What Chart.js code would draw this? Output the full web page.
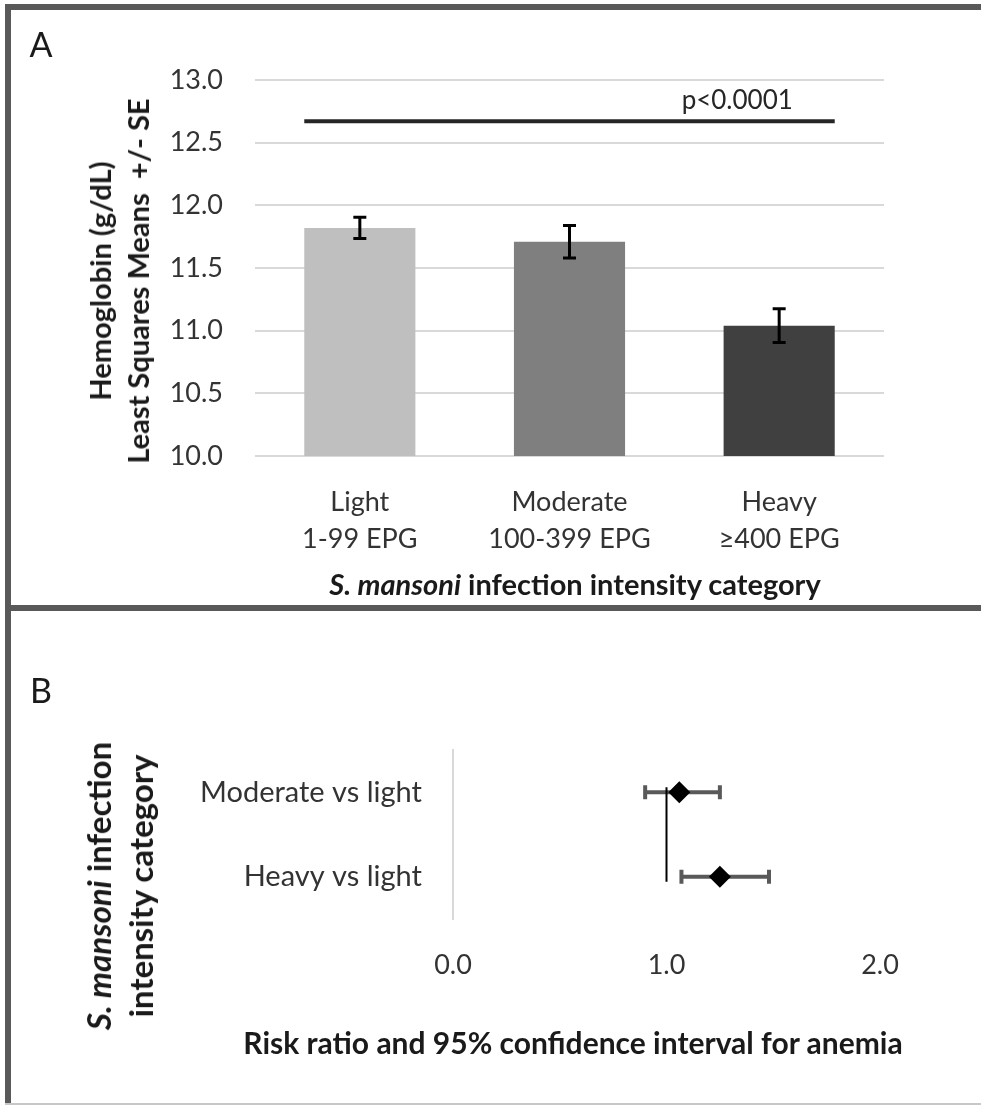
<!DOCTYPE html>
<html>
<head>
<meta charset="utf-8">
<script src="https://cdn.jsdelivr.net/npm/chart.js@4.4.0/dist/chart.umd.min.js"></script>
<style>
  html, body { margin: 0; padding: 0; background: #fff; }
  body { width: 981px; height: 1107px; position: relative; overflow: hidden;
         font-family: Lato, "Open Sans", sans-serif; color: #1a1a1a; }
  canvas { position: absolute; left: 0; }
  .rule { position: absolute; background: #595959; }
  .c { position: absolute; white-space: nowrap; text-align: center; transform: translate(-50%, -50%); }
  .rot { transform: translate(-50%, -50%) rotate(-90deg); }
  .panel { font-size: 34px; line-height: 1; }
  .title { font-size: 29px; font-weight: bold; }
</style>
</head>
<body>

<canvas id="hbChart" width="981" height="605" style="top:0"></canvas>
<canvas id="rrChart" width="981" height="492" style="top:611px"></canvas>

<!-- panel frame -->
<div class="rule" style="left:5px; top:4px; width:976px; height:6px"></div>
<div class="rule" style="left:5px; top:4px; width:6px; height:1101px"></div>
<div class="rule" style="left:5px; top:605px; width:976px; height:6px"></div>
<div class="rule" style="left:5px; top:1103px; width:976px; height:2px; background:#c8c8c8"></div>

<!-- panel letters and axis titles -->
<div class="c panel" style="left:41px; top:44px">A</div>
<div class="c title rot" style="left:119px; top:281px; line-height:38px">Hemoglobin (g/dL)<br>Least Squares Means &nbsp;+/- SE</div>
<div class="c title" style="left:575px; top:583px"><i>S. mansoni</i> infection intensity category</div>

<div class="c panel" style="left:41px; top:690px">B</div>
<div class="c title rot" style="left:119px; top:886px; line-height:42px; font-size:33px"><i>S. mansoni</i> infection<br>intensity category</div>
<div class="c title" style="left:573px; top:1042px; font-size:30px">Risk ratio and 95% confidence interval for anemia</div>

<script>
// ─── Panel A: hemoglobin by infection intensity ─────────────────────────────
const hbCategories = [["Light", "1-99 EPG"], ["Moderate", "100-399 EPG"], ["Heavy", "≥400 EPG"]];
const hbMeans  = [11.82, 11.71, 11.04];
const hbSE     = [0.085, 0.13, 0.135];
const hbColors = ["#bfbfbf", "#7f7f7f", "#404040"];
const hbAxis   = { min: 10, max: 13, step: 0.5 };
const sigLevel = 12.67;
const sigText  = "p<0.0001";

// ─── Panel B: risk ratios for anemia ────────────────────────────────────────
const rrLabels   = ["Moderate vs light", "Heavy vs light"];
const rrEstimate = [1.06, 1.25];
const rrLower    = [0.90, 1.07];
const rrUpper    = [1.25, 1.48];
const rrRef      = 1.0;
const rrAxis     = { min: 0, max: 2, step: 1 };

const FONT = "Lato, 'Open Sans', sans-serif";
const TICK_COLOR = "#333333";

// Error bars (+/- SE) and the significance bracket, drawn from bar geometry
const hbExtras = {
  id: "hbExtras",
  afterDatasetsDraw(chart) {
    const { ctx, scales: { x, y } } = chart;
    const bars = chart.getDatasetMeta(0).data;
    ctx.save();
    ctx.strokeStyle = "#000";
    ctx.lineWidth = 3;
    bars.forEach((bar, i) => {
      const top = y.getPixelForValue(hbMeans[i] + hbSE[i]);
      const bot = y.getPixelForValue(hbMeans[i] - hbSE[i]);
      ctx.beginPath();
      ctx.moveTo(bar.x, top); ctx.lineTo(bar.x, bot);
      ctx.moveTo(bar.x - 6.5, top); ctx.lineTo(bar.x + 6.5, top);
      ctx.moveTo(bar.x - 6.5, bot); ctx.lineTo(bar.x + 6.5, bot);
      ctx.stroke();
    });

    // bracket spans from the first bar's left edge to the last bar's right edge
    const first = bars[0], last = bars[bars.length - 1];
    const ly = y.getPixelForValue(sigLevel);
    ctx.strokeStyle = "#262626";
    ctx.lineWidth = 4;
    ctx.beginPath();
    ctx.moveTo(first.x - first.width / 2, ly);
    ctx.lineTo(last.x + last.width / 2, ly);
    ctx.stroke();

    ctx.fillStyle = "#262626";
    ctx.font = "26px " + FONT;
    ctx.textAlign = "center";
    ctx.textBaseline = "alphabetic";
    ctx.fillText(sigText, x.getPixelForValue(1.8), ly - 12);
    ctx.restore();
  }
};

new Chart(document.getElementById("hbChart"), {
  type: "bar",
  data: {
    labels: hbCategories,
    datasets: [{
      data: hbMeans,
      backgroundColor: hbColors,
      borderWidth: 0,
      categoryPercentage: 1,
      barPercentage: 0.53,
    }],
  },
  options: {
    responsive: false,
    animation: false,
    layout: { padding: { top: 80, right: 97, left: 0, bottom: 0 } },
    plugins: { legend: { display: false }, tooltip: { enabled: false } },
    scales: {
      x: {
        grid: { display: false },
        border: { display: false },
        ticks: { color: TICK_COLOR, font: { family: FONT, size: 27, lineHeight: 1.4 }, padding: 19, maxRotation: 0 },
        afterFit: (s) => { s.height = 149; },
      },
      y: {
        min: hbAxis.min,
        max: hbAxis.max,
        grid: { color: "#d9d9d9", lineWidth: 2, drawTicks: false },
        border: { display: false },
        ticks: {
          stepSize: hbAxis.step,
          color: TICK_COLOR,
          font: { family: FONT, size: 27 },
          padding: 32,
          callback: (v) => v.toFixed(1),
        },
        afterFit: (s) => { s.width = 255; },
      },
    },
  },
  plugins: [hbExtras],
});

// Reference line at RR = 1, a little past both rows
const rrRefLine = {
  id: "rrRefLine",
  afterDatasetsDraw(chart) {
    const { ctx, scales: { x, y } } = chart;
    const px = x.getPixelForValue(rrRef);
    ctx.save();
    ctx.strokeStyle = "#000";
    ctx.lineWidth = 2;
    ctx.beginPath();
    ctx.moveTo(px, y.getPixelForValue(0) - 5);
    ctx.lineTo(px, y.getPixelForValue(rrLabels.length - 1) + 5);
    ctx.stroke();
    ctx.restore();
  }
};

const ciDatasets = rrLabels.map((lbl, i) => ({
  type: "line",
  data: [{ x: rrLower[i], y: lbl }, { x: rrUpper[i], y: lbl }],
  borderColor: "#595959",
  borderWidth: 4,
  pointStyle: "line",
  rotation: 90,
  pointRadius: 7,
  pointBorderWidth: 4,
  pointBorderColor: "#595959",
  showLine: true,
  order: 2,
}));

new Chart(document.getElementById("rrChart"), {
  type: "scatter",
  data: {
    datasets: [{
      data: rrLabels.map((lbl, i) => ({ x: rrEstimate[i], y: lbl })),
      pointStyle: "rectRot",
      pointRadius: 11,
      backgroundColor: "#000",
      borderWidth: 0,
      order: 1,
    }, ...ciDatasets],
  },
  options: {
    responsive: false,
    animation: false,
    layout: { padding: { top: 139, right: 101, left: 0, bottom: 0 } },
    plugins: { legend: { display: false }, tooltip: { enabled: false } },
    scales: {
      x: {
        type: "linear",
        min: rrAxis.min,
        max: rrAxis.max,
        grid: { display: false },
        border: { display: false },
        ticks: {
          stepSize: rrAxis.step,
          color: TICK_COLOR,
          font: { family: FONT, size: 27 },
          padding: 22,
          callback: (v) => v.toFixed(1),
        },
        afterFit: (s) => { s.height = 184; },
      },
      y: {
        type: "category",
        labels: rrLabels,
        offset: true,
        grid: { display: false, drawTicks: false },
        border: { display: true, color: "#d9d9d9", width: 2 },
        ticks: { color: TICK_COLOR, font: { family: FONT, size: 29 }, padding: 31 },
        afterFit: (s) => { s.width = 453; },
      },
    },
  },
  plugins: [rrRefLine],
});
</script>
</body>
</html>
